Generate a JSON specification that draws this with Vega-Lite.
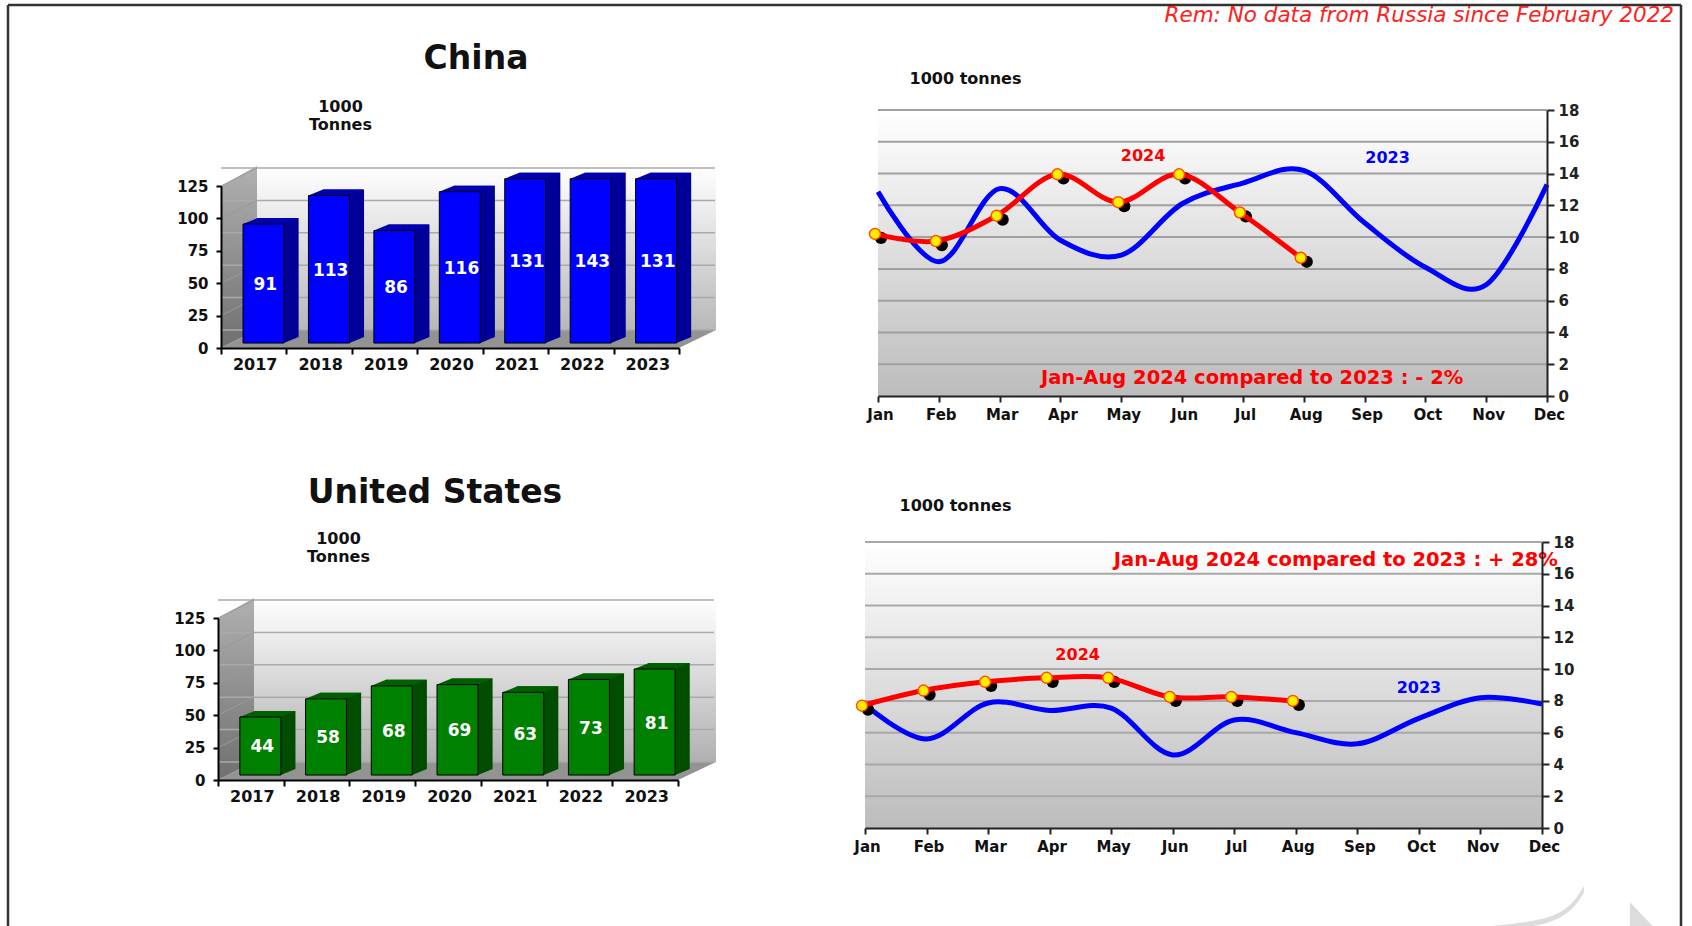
{
"$schema":"https://vega.github.io/schema/vega-lite/v6.json",
"background":"white","padding":0,"bounds":"flush","spacing":0,
"config":{"view":{"stroke":null},"font":"DejaVu Sans","axis":{"labelOverlap":false,"labelBound":false,"labelFlush":false}},
"datasets":{
"cb":[{"year":"2017","value":91,"drawn":91},{"year":"2018","value":113,"drawn":113},{"year":"2019","value":86,"drawn":86},{"year":"2020","value":116,"drawn":116},{"year":"2021","value":131,"drawn":126},{"year":"2022","value":143,"drawn":126},{"year":"2023","value":131,"drawn":126}],
"ub":[{"year":"2017","value":44,"drawn":44},{"year":"2018","value":58,"drawn":58},{"year":"2019","value":68,"drawn":68},{"year":"2020","value":69,"drawn":69},{"year":"2021","value":63,"drawn":63},{"year":"2022","value":73,"drawn":73},{"year":"2023","value":81,"drawn":81}],
"ticksBar":[{"t":0},{"t":25},{"t":50},{"t":75},{"t":100},{"t":125}],
"ticksLine":[{"t":2},{"t":4},{"t":6},{"t":8},{"t":10},{"t":12},{"t":14},{"t":16},{"t":18}],
"c23":[{"month":"Jan","value":12.85},{"month":"Feb","value":8.45},{"month":"Mar","value":13.05},{"month":"Apr","value":9.8},{"month":"May","value":8.87},{"month":"Jun","value":12.1},{"month":"Jul","value":13.4},{"month":"Aug","value":14.2},{"month":"Sep","value":10.9},{"month":"Oct","value":8.1},{"month":"Nov","value":7.0},{"month":"Dec","value":13.3}],
"c24":[{"month":"Jan","value":10.2},{"month":"Feb","value":9.75},{"month":"Mar","value":11.35},{"month":"Apr","value":13.95},{"month":"May","value":12.2},{"month":"Jun","value":13.95},{"month":"Jul","value":11.55},{"month":"Aug","value":8.7}],
"u23":[{"month":"Jan","value":7.76},{"month":"Feb","value":5.6},{"month":"Mar","value":7.87},{"month":"Apr","value":7.4},{"month":"May","value":7.55},{"month":"Jun","value":4.6},{"month":"Jul","value":6.8},{"month":"Aug","value":6.0},{"month":"Sep","value":5.3},{"month":"Oct","value":6.9},{"month":"Nov","value":8.2},{"month":"Dec","value":7.8}],
"u24":[{"month":"Jan","value":7.7},{"month":"Feb","value":8.65},{"month":"Mar","value":9.2},{"month":"Apr","value":9.45},{"month":"May","value":9.45},{"month":"Jun","value":8.25},{"month":"Jul","value":8.25},{"month":"Aug","value":8.0}]
},
"hconcat":[
{"vconcat":[{"width":1,"height":4,"data":{"values":[{}]},"mark":{"type":"rule","opacity":0},"encoding":{}},
 {"hconcat":[{"width":7,"height":1,"data":{"values":[{}]},"mark":{"type":"rule","opacity":0},"encoding":{}},
  {"width":1673,"height":921,"data":{"values":[{}]},"layer":[
   {"mark":{"type":"rule","stroke":"#333333","strokeWidth":2.5},"encoding":{"x":{"datum":0,"type":"quantitative","scale":{"domain":[0,1],"nice":false},"axis":null}}},
   {"mark":{"type":"rule","stroke":"#333333","strokeWidth":2.5},"encoding":{"x":{"datum":1,"type":"quantitative"}}},
   {"mark":{"type":"rule","stroke":"#333333","strokeWidth":2.5},"encoding":{"y":{"datum":1,"type":"quantitative","scale":{"domain":[0,1],"nice":false},"axis":null}}},
   {"mark":{"type":"text","align":"right","baseline":"middle","dx":-7,"dy":11,"fontSize":21.5,"fontStyle":"italic","font":"DejaVu Sans","color":"#ff2020"},"encoding":{"x":{"datum":1,"type":"quantitative"},"y":{"datum":1,"type":"quantitative"},"text":{"value":"Rem: No data from Russia since February 2022"}}},
   {"mark":{"type":"point","filled":true,"opacity":1,"fill":"#dcdcdc","size":40000,"shape":"M-1 .22C-.3 .12 0 .18 .2 -.22L.2 -.15C0 .22 -.3 .18 -1 .27Z"},"encoding":{"x":{"datum":0.93,"type":"quantitative"},"y":{"datum":0.02,"type":"quantitative"}}},
   {"mark":{"type":"point","filled":true,"opacity":1,"fill":"#dcdcdc","size":2500,"shape":"M-.5 -.95L.5 .1L.5 .1L-.5 .1Z"},"encoding":{"x":{"datum":0.977,"type":"quantitative"},"y":{"datum":0,"type":"quantitative"}}}
  ]}],"spacing":0,"bounds":"flush"}],"spacing":0,"bounds":"flush"},

{"vconcat":[{"width":1,"height":185,"data":{"values":[{}]},"mark":{"type":"rule","opacity":0},"encoding":{}},
 {"hconcat":[{"width":220,"height":1,"data":{"values":[{}]},"mark":{"type":"rule","opacity":0},"encoding":{}},
  {"width":458,"height":162,
   "title":{"text":"China","fontSize":33,"fontWeight":"bold","font":"DejaVu Sans","color":"#111111","anchor":"middle","dx":26,"offset":22},
   "layer":[
    {"layer":[
     {"data":{"values":[{}]},"mark":{"type":"point","filled":true,"opacity":1,"size":1000000,"stroke":null,"shape":"M.072 -.036L.99 -.036L.99 -.364L.072 -.364Z","fill":{"gradient":"linear","x1":0,"y1":0,"x2":0,"y2":1,"stops":[{"offset":0,"color":"#ffffff"},{"offset":1,"color":"#b8b8b8"}]}},
      "encoding":{"x":{"datum":"2017","type":"nominal","bandPosition":0,"scale":{"domain":["2017","2018","2019","2020","2021","2022","2023"],"paddingInner":0,"paddingOuter":0},"axis":{"title":null,"zindex":1,"tickBand":"extent","labelAngle":0,"labelFontSize":16,"labelFontWeight":"bold","labelColor":"#111111","domainColor":"#000000","domainWidth":2,"tickColor":"#000000","tickWidth":2,"tickSize":6,"labelPadding":2,"labelOffset":1}},
       "y":{"datum":0,"type":"quantitative","scale":{"domain":[0,125],"nice":false},"axis":{"values":[0,25,50,75,100,125],"tickCount":6,"labelOverlap":false,"grid":false,"zindex":1,"title":["1000","Tonnes"],"titleAngle":0,"titleX":119,"titleY":-72,"titleFontSize":16,"titleFontWeight":"bold","titleColor":"#111111","titleAlign":"center","labelFontSize":15,"labelFontWeight":"bold","labelColor":"#111111","domainColor":"#000000","domainWidth":2,"tickColor":"#000000","tickWidth":2,"tickSize":5,"labelPadding":8}}}},
     {"data":{"values":[{}]},"mark":{"type":"point","filled":true,"opacity":1,"size":1000000,"stroke":null,"shape":"M0 0L.072 -.036L.072 -.364L0 -.324Z","fill":{"gradient":"linear","x1":0,"y1":0,"x2":0,"y2":1,"stops":[{"offset":0,"color":"#b0b0b0"},{"offset":1,"color":"#707070"}]}},
      "encoding":{"x":{"datum":"2017","type":"nominal","bandPosition":0},"y":{"datum":0,"type":"quantitative"}}},
     {"data":{"values":[{}]},"mark":{"type":"point","filled":true,"opacity":1,"size":1000000,"stroke":null,"fill":"#939393","shape":"M0 0L.072 -.036L.99 -.036L.916 0Z"},
      "encoding":{"x":{"datum":"2017","type":"nominal","bandPosition":0},"y":{"datum":0,"type":"quantitative"}}},
     {"data":{"name":"ticksBar"},"mark":{"type":"rule","stroke":"#aaaaaa","strokeWidth":1.5,"xOffset":36,"yOffset":-18},"encoding":{"y":{"field":"t","type":"quantitative"}}},
     {"data":{"name":"ticksBar"},"mark":{"type":"point","filled":false,"opacity":1,"size":1000000,"stroke":"#999999","strokeWidth":1,"shape":"M0 0L.072 -.036"},"encoding":{"x":{"datum":"2017","type":"nominal","bandPosition":0},"y":{"field":"t","type":"quantitative"}}},
     {"data":{"name":"cb"},"mark":{"type":"bar","width":41,"xOffset":24.4,"yOffset":-12,"y2Offset":-12,"fill":"#000099"},"encoding":{"x":{"field":"year","type":"nominal"},"y":{"field":"drawn","type":"quantitative","stack":null},"y2":{"datum":-0.8}}},
     {"data":{"name":"cb"},"mark":{"type":"point","filled":true,"opacity":1,"size":3600,"stroke":null,"fill":"#000099","xOffset":9.8,"yOffset":-6,"shape":"M.683 0L.683 -.2L1.17 -.2Z"},"encoding":{"x":{"field":"year","type":"nominal"},"y":{"datum":-0.8,"type":"quantitative"}}},
     {"data":{"name":"cb"},"mark":{"type":"point","filled":true,"opacity":1,"size":3600,"stroke":null,"fill":"#0000b0","xOffset":9.8,"yOffset":-6,"shape":"M-.683 0L.683 0L1.17 -.2L-.197 -.2Z"},"encoding":{"x":{"field":"year","type":"nominal"},"y":{"field":"drawn","type":"quantitative"}}},
     {"data":{"name":"cb"},"mark":{"type":"bar","width":41,"xOffset":9.8,"yOffset":-6,"y2Offset":-6,"fill":"#0000ff","stroke":"#000000","strokeWidth":1},"encoding":{"x":{"field":"year","type":"nominal"},"y":{"field":"drawn","type":"quantitative","stack":null},"y2":{"datum":-0.8}}}
    ]},
    {"data":{"name":"cb"},"mark":{"type":"text","color":"white","fontSize":17,"fontWeight":"bold","xOffset":11.5,"yOffset":-4,"baseline":"middle"},"encoding":{"x":{"field":"year","type":"nominal"},"y":{"field":"drawn","type":"quantitative","scale":{"domain":[0,250],"nice":false},"axis":null},"text":{"field":"value","type":"quantitative"}}}
   ],"resolve":{"scale":{"y":"independent"}}}
 ],"spacing":0,"bounds":"flush"}],"spacing":0,"bounds":"flush"},

{"vconcat":[{"width":1,"height":617,"data":{"values":[{}]},"mark":{"type":"rule","opacity":0},"encoding":{}},
 {"hconcat":[{"width":217,"height":1,"data":{"values":[{}]},"mark":{"type":"rule","opacity":0},"encoding":{}},
  {"width":460,"height":162,
   "title":{"text":"United States","fontSize":33,"fontWeight":"bold","font":"DejaVu Sans","color":"#111111","anchor":"middle","dx":-13,"offset":20},
   "layer":[
    {"layer":[
     {"data":{"values":[{}]},"mark":{"type":"point","filled":true,"opacity":1,"size":1000000,"stroke":null,"shape":"M.072 -.036L.996 -.036L.996 -.364L.072 -.364Z","fill":{"gradient":"linear","x1":0,"y1":0,"x2":0,"y2":1,"stops":[{"offset":0,"color":"#ffffff"},{"offset":1,"color":"#b0b0b0"}]}},
      "encoding":{"x":{"datum":"2017","type":"nominal","bandPosition":0,"scale":{"domain":["2017","2018","2019","2020","2021","2022","2023"],"paddingInner":0,"paddingOuter":0},"axis":{"title":null,"zindex":1,"tickBand":"extent","labelAngle":0,"labelFontSize":16,"labelFontWeight":"bold","labelColor":"#111111","domainColor":"#000000","domainWidth":2,"tickColor":"#000000","tickWidth":2,"tickSize":6,"labelPadding":2,"labelOffset":1}},
       "y":{"datum":0,"type":"quantitative","scale":{"domain":[0,125],"nice":false},"axis":{"values":[0,25,50,75,100,125],"tickCount":6,"labelOverlap":false,"grid":false,"zindex":1,"title":["1000","Tonnes"],"titleAngle":0,"titleX":120,"titleY":-72,"titleFontSize":16,"titleFontWeight":"bold","titleColor":"#111111","titleAlign":"center","labelFontSize":15,"labelFontWeight":"bold","labelColor":"#111111","domainColor":"#000000","domainWidth":2,"tickColor":"#000000","tickWidth":2,"tickSize":5,"labelPadding":8}}}},
     {"data":{"values":[{}]},"mark":{"type":"point","filled":true,"opacity":1,"size":1000000,"stroke":null,"shape":"M0 0L.072 -.036L.072 -.364L0 -.324Z","fill":{"gradient":"linear","x1":0,"y1":0,"x2":0,"y2":1,"stops":[{"offset":0,"color":"#b0b0b0"},{"offset":1,"color":"#707070"}]}},
      "encoding":{"x":{"datum":"2017","type":"nominal","bandPosition":0},"y":{"datum":0,"type":"quantitative"}}},
     {"data":{"values":[{}]},"mark":{"type":"point","filled":true,"opacity":1,"size":1000000,"stroke":null,"fill":"#939393","shape":"M0 0L.072 -.036L.996 -.036L.92 0Z"},
      "encoding":{"x":{"datum":"2017","type":"nominal","bandPosition":0},"y":{"datum":0,"type":"quantitative"}}},
     {"data":{"name":"ticksBar"},"mark":{"type":"rule","stroke":"#aaaaaa","strokeWidth":1.5,"xOffset":36,"yOffset":-18},"encoding":{"y":{"field":"t","type":"quantitative"}}},
     {"data":{"name":"ticksBar"},"mark":{"type":"point","filled":false,"opacity":1,"size":1000000,"stroke":"#999999","strokeWidth":1,"shape":"M0 0L.072 -.036"},"encoding":{"x":{"datum":"2017","type":"nominal","bandPosition":0},"y":{"field":"t","type":"quantitative"}}},
     {"data":{"name":"ub"},"mark":{"type":"bar","width":41,"xOffset":24.1,"yOffset":-12,"y2Offset":-12,"fill":"#004d00"},"encoding":{"x":{"field":"year","type":"nominal"},"y":{"field":"drawn","type":"quantitative","stack":null},"y2":{"datum":-0.8}}},
     {"data":{"name":"ub"},"mark":{"type":"point","filled":true,"opacity":1,"size":3600,"stroke":null,"fill":"#004d00","xOffset":9.5,"yOffset":-6,"shape":"M.683 0L.683 -.2L1.17 -.2Z"},"encoding":{"x":{"field":"year","type":"nominal"},"y":{"datum":-0.8,"type":"quantitative"}}},
     {"data":{"name":"ub"},"mark":{"type":"point","filled":true,"opacity":1,"size":3600,"stroke":null,"fill":"#006000","xOffset":9.5,"yOffset":-6,"shape":"M-.683 0L.683 0L1.17 -.2L-.197 -.2Z"},"encoding":{"x":{"field":"year","type":"nominal"},"y":{"field":"drawn","type":"quantitative"}}},
     {"data":{"name":"ub"},"mark":{"type":"bar","width":41,"xOffset":9.5,"yOffset":-6,"y2Offset":-6,"fill":"#008000","stroke":"#000000","strokeWidth":1},"encoding":{"x":{"field":"year","type":"nominal"},"y":{"field":"drawn","type":"quantitative","stack":null},"y2":{"datum":-0.8}}}
    ]},
    {"data":{"name":"ub"},"mark":{"type":"text","color":"white","fontSize":17,"fontWeight":"bold","xOffset":11.5,"yOffset":-4,"baseline":"middle"},"encoding":{"x":{"field":"year","type":"nominal"},"y":{"field":"drawn","type":"quantitative","scale":{"domain":[0,250],"nice":false},"axis":null},"text":{"field":"value","type":"quantitative"}}}
   ],"resolve":{"scale":{"y":"independent"}}}
 ],"spacing":0,"bounds":"flush"}],"spacing":0,"bounds":"flush"},

{"vconcat":[{"width":1,"height":109,"data":{"values":[{}]},"mark":{"type":"rule","opacity":0},"encoding":{}},
 {"hconcat":[{"width":877,"height":1,"data":{"values":[{}]},"mark":{"type":"rule","opacity":0},"encoding":{}},
  {"width":669,"height":286,"layer":[
   {"data":{"values":[{}]},"mark":{"type":"rect","fill":{"gradient":"linear","x1":0,"y1":0,"x2":0,"y2":1,"stops":[{"offset":0,"color":"#ffffff"},{"offset":1,"color":"#bcbcbc"}]}},
    "encoding":{"x":{"datum":"Jan","type":"ordinal","scale":{"type":"point","padding":0,"domain":["Jan","Feb","Mar","Apr","May","Jun","Jul","Aug","Sep","Oct","Nov","Dec"]},"axis":{"title":null,"zindex":1,"labelAngle":0,"labelFontSize":15,"labelFontWeight":"bold","labelColor":"#111111","domainColor":"#222222","domainWidth":2,"tickColor":"#222222","tickWidth":2,"tickSize":6,"labelPadding":5,"labelOffset":2}},"x2":{"datum":"Dec"},
     "y":{"datum":18,"type":"quantitative","scale":{"domain":[0,18],"nice":false},"axis":{"orient":"right","values":[0,2,4,6,8,10,12,14,16,18],"tickCount":10,"labelOverlap":false,"grid":false,"zindex":1,"title":"1000 tonnes","titleAngle":0,"titleX":-582,"titleY":-32,"titleFontSize":16,"titleFontWeight":"bold","titleColor":"#111111","titleAlign":"center","titleBaseline":"middle","labelFontSize":15,"labelFontWeight":"bold","labelColor":"#222222","domainColor":"#222222","domainWidth":2,"tickColor":"#222222","tickWidth":2,"tickSize":7,"labelPadding":4}},"y2":{"datum":0}}},
   {"data":{"name":"ticksLine"},"mark":{"type":"rule","stroke":"#a0a0a0","strokeWidth":2},"encoding":{"y":{"field":"t","type":"quantitative"}}},
   {"data":{"name":"c23"},"mark":{"type":"line","stroke":"#0000ff","strokeWidth":5,"interpolate":"cardinal"},"encoding":{"x":{"field":"month","type":"ordinal"},"y":{"field":"value","type":"quantitative"}}},
   {"data":{"name":"c24"},"mark":{"type":"point","filled":true,"opacity":1,"fill":"#000000","size":150,"stroke":null,"xOffset":3,"yOffset":4},"encoding":{"x":{"field":"month","type":"ordinal"},"y":{"field":"value","type":"quantitative"}}},
   {"data":{"name":"c24"},"mark":{"type":"line","stroke":"#ff0000","strokeWidth":5,"interpolate":"cardinal","xOffset":-3},"encoding":{"x":{"field":"month","type":"ordinal"},"y":{"field":"value","type":"quantitative"}}},
   {"data":{"name":"c24"},"mark":{"type":"point","filled":true,"opacity":1,"fill":"#ffee00","size":120,"stroke":"#ff5000","strokeWidth":1.5,"xOffset":-3},"encoding":{"x":{"field":"month","type":"ordinal"},"y":{"field":"value","type":"quantitative"}}},
   {"data":{"values":[{}]},"mark":{"type":"text","color":"#ff0000","fontSize":16,"fontWeight":"bold","dx":-39},"encoding":{"x":{"datum":"Jun","type":"ordinal"},"y":{"datum":15.08,"type":"quantitative"},"text":{"value":"2024"}}},
   {"data":{"values":[{}]},"mark":{"type":"text","color":"#0000ff","fontSize":16,"fontWeight":"bold","dx":23},"encoding":{"x":{"datum":"Sep","type":"ordinal"},"y":{"datum":15.0,"type":"quantitative"},"text":{"value":"2023"}}},
   {"data":{"values":[{}]},"mark":{"type":"text","color":"#ff0000","fontSize":19.5,"fontWeight":"bold","dx":70},"encoding":{"x":{"datum":"Jun","type":"ordinal"},"y":{"datum":1.15,"type":"quantitative"},"text":{"value":"Jan-Aug 2024 compared to 2023 : - 2%"}}}
  ]}],"spacing":0,"bounds":"flush"}],"spacing":0,"bounds":"flush"},

{"vconcat":[{"width":1,"height":541,"data":{"values":[{}]},"mark":{"type":"rule","opacity":0},"encoding":{}},
 {"hconcat":[{"width":864,"height":1,"data":{"values":[{}]},"mark":{"type":"rule","opacity":0},"encoding":{}},
  {"width":677,"height":286,"layer":[
   {"data":{"values":[{}]},"mark":{"type":"rect","fill":{"gradient":"linear","x1":0,"y1":0,"x2":0,"y2":1,"stops":[{"offset":0,"color":"#ffffff"},{"offset":1,"color":"#bcbcbc"}]}},
    "encoding":{"x":{"datum":"Jan","type":"ordinal","scale":{"type":"point","padding":0,"domain":["Jan","Feb","Mar","Apr","May","Jun","Jul","Aug","Sep","Oct","Nov","Dec"]},"axis":{"title":null,"zindex":1,"labelAngle":0,"labelFontSize":15,"labelFontWeight":"bold","labelColor":"#111111","domainColor":"#222222","domainWidth":2,"tickColor":"#222222","tickWidth":2,"tickSize":6,"labelPadding":5,"labelOffset":2}},"x2":{"datum":"Dec"},
     "y":{"datum":18,"type":"quantitative","scale":{"domain":[0,18],"nice":false},"axis":{"orient":"right","values":[0,2,4,6,8,10,12,14,16,18],"tickCount":10,"labelOverlap":false,"grid":false,"zindex":1,"title":"1000 tonnes","titleAngle":0,"titleX":-587,"titleY":-37,"titleFontSize":16,"titleFontWeight":"bold","titleColor":"#111111","titleAlign":"center","titleBaseline":"middle","labelFontSize":15,"labelFontWeight":"bold","labelColor":"#222222","domainColor":"#222222","domainWidth":2,"tickColor":"#222222","tickWidth":2,"tickSize":7,"labelPadding":4}},"y2":{"datum":0}}},
   {"data":{"name":"ticksLine"},"mark":{"type":"rule","stroke":"#a8a8a8","strokeWidth":2},"encoding":{"y":{"field":"t","type":"quantitative"}}},
   {"data":{"name":"u23"},"mark":{"type":"line","stroke":"#0000ff","strokeWidth":5,"interpolate":"cardinal"},"encoding":{"x":{"field":"month","type":"ordinal"},"y":{"field":"value","type":"quantitative"}}},
   {"data":{"name":"u24"},"mark":{"type":"point","filled":true,"opacity":1,"fill":"#000000","size":150,"stroke":null,"xOffset":3,"yOffset":4},"encoding":{"x":{"field":"month","type":"ordinal"},"y":{"field":"value","type":"quantitative"}}},
   {"data":{"name":"u24"},"mark":{"type":"line","stroke":"#ff0000","strokeWidth":5,"interpolate":"cardinal","xOffset":-3},"encoding":{"x":{"field":"month","type":"ordinal"},"y":{"field":"value","type":"quantitative"}}},
   {"data":{"name":"u24"},"mark":{"type":"point","filled":true,"opacity":1,"fill":"#ffee00","size":120,"stroke":"#ff5000","strokeWidth":1.5,"xOffset":-3},"encoding":{"x":{"field":"month","type":"ordinal"},"y":{"field":"value","type":"quantitative"}}},
   {"data":{"values":[{}]},"mark":{"type":"text","color":"#ff0000","fontSize":16,"fontWeight":"bold","dx":28},"encoding":{"x":{"datum":"Apr","type":"ordinal"},"y":{"datum":10.87,"type":"quantitative"},"text":{"value":"2024"}}},
   {"data":{"values":[{}]},"mark":{"type":"text","color":"#0000ff","fontSize":16,"fontWeight":"bold"},"encoding":{"x":{"datum":"Oct","type":"ordinal"},"y":{"datum":8.83,"type":"quantitative"},"text":{"value":"2023"}}},
   {"data":{"values":[{}]},"mark":{"type":"text","color":"#ff0000","fontSize":19.5,"fontWeight":"bold","dx":40},"encoding":{"x":{"datum":"Aug","type":"ordinal"},"y":{"datum":16.85,"type":"quantitative"},"text":{"value":"Jan-Aug 2024 compared to 2023 : + 28%"}}}
  ]}],"spacing":0,"bounds":"flush"}],"spacing":0,"bounds":"flush"}
]}
